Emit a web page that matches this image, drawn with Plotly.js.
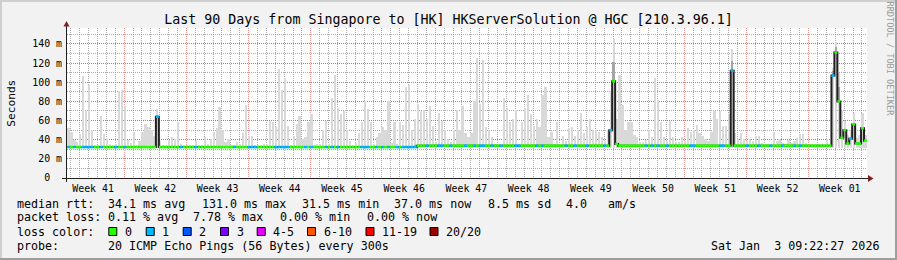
<!DOCTYPE html>
<html>
<head>
<meta charset="utf-8">
<script src="https://cdn.plot.ly/plotly-3.0.1.min.js"></script>
<style>
html,body{margin:0;padding:0;background:#f2f2f2;overflow:hidden;}
#chart{width:897px;height:260px;}
</style>
</head>
<body>
<div id="chart"></div>
<script>
// ---------------- data ----------------
const titleText = 'Last 90 Days from Singapore to [HK] HKServerSolution @ HGC [210.3.96.1]';
const yAxisTitle = 'Seconds';
const watermarkText = 'RRDTOOL / TOBI OETIKER';
const binHours = 8; // each value covers 8 hours; 270 values = 90 days
const weekLabels = ['Week 41','Week 42','Week 43','Week 44','Week 45','Week 46','Week 47','Week 48','Week 49','Week 50','Week 51','Week 52','Week 01'];
const yTickValues = [0,20,40,60,80,100,120,140];
const yTickLabels = ['0\u00a0\u00a0','20 m','40 m','60 m','80 m','100 m','120 m','140 m'];
const minRtt = 31.5; // ms, lowest ping (smoke floor)

// highest ping per bin (ms) -- the grey "smoke"
const smokeMax = [
 52,48,40,38,46,107,70,97,50,35,
 35,65,46,42,36,34,36,91,92,75,
 40,37,48,34,39,48,56,53,50,44,
 72,39,35,35,40,43,41,58,36,35,
 34,34,35,39,35,35,43,36,41,48,
 52,74,50,38,41,35,35,38,36,47,
 76,44,44,35,35,35,36,36,60,58,
 53,114,92,104,54,35,44,56,65,41,
 43,59,67,35,36,36,50,60,36,84,
 108,73,67,70,50,39,35,37,47,58,
 80,72,58,36,43,47,53,50,80,37,
 59,36,59,55,95,97,50,62,77,70,
 71,62,75,54,38,68,60,50,41,38,
 50,71,50,75,47,43,47,80,125,77,
 123,53,50,43,36,35,35,84,73,58,
 62,71,36,58,73,87,67,54,62,53,
 87,95,43,48,36,59,35,44,39,52,
 53,44,50,68,47,53,62,50,50,48,
 43,39,50,91,145,62,108,76,50,59,
 59,45,43,38,38,40,50,43,104,82,
 58,43,39,60,43,38,38,43,39,52,
 48,50,55,47,44,41,39,48,70,62,
 70,54,54,67,135,47,41,47,41,39,
 41,39,44,44,37,36,36,36,48,39,
 41,37,36,40,37,39,42,46,46,37,
 35,35,35,35,35,35,41,35,115,142,
 110,70,60,45,50,68,42,45,68,45
];

// median rtt per bin (ms)
const median = [
 32.3,32.3,32.3,32.3,32.3,32.3,32.3,32.3,32.3,32.3,
 32.3,32.3,32.3,32.3,32.3,32.3,32.3,32.3,32.3,32.3,
 32.3,32.3,32.3,32.3,32.3,32.3,32.3,32.3,32.3,32.3,
 64,32.3,32.3,32.3,32.3,32.3,32.3,32.3,32.3,32.3,
 32.3,32.3,32.3,32.3,32.3,32.3,32.3,32.3,32.3,32.3,
 32.3,32.3,32.3,32.3,32.3,32.3,32.3,32.3,32.3,32.3,
 32.3,32.3,32.3,32.3,32.3,32.3,32.3,32.3,32.3,32.3,
 32.3,32.3,32.3,32.3,32.3,32.3,32.3,32.3,32.3,32.3,
 32.3,32.3,32.3,32.3,32.3,32.3,32.3,32.3,32.3,32.3,
 32.3,32.3,32.3,32.3,32.3,32.3,32.3,32.3,32.3,32.3,
 32.3,32.3,32.3,32.3,32.3,32.3,32.3,32.3,32.3,32.3,
 32.3,32.3,32.3,32.3,32.3,32.3,32.3,32.3,33.8,33.8,
 33.8,33.8,33.8,33.8,33.8,33.8,33.8,33.8,33.8,33.8,
 33.8,33.8,33.8,33.8,33.8,33.8,33.8,33.8,33.8,33.8,
 33.8,33.8,33.8,33.8,33.8,33.8,33.8,33.8,33.8,33.8,
 33.8,33.8,33.8,33.8,33.8,33.8,33.8,33.8,33.8,33.8,
 33.8,33.8,33.8,33.8,33.8,33.8,33.8,33.8,33.8,33.8,
 33.8,33.8,33.8,33.8,33.8,33.8,33.8,33.8,33.8,33.8,
 33.8,33.8,33.8,50,101,35.5,33.8,33.8,33.8,33.8,
 33.8,33.8,33.8,33.8,33.8,33.8,33.8,33.8,33.8,33.8,
 33.8,33.8,33.8,33.8,33.8,33.8,33.8,33.8,33.8,33.8,
 33.8,33.8,33.8,33.8,33.8,33.8,33.8,33.8,33.8,33.8,
 33.8,33.8,33.8,33.8,112,33.8,33.8,33.8,33.8,33.8,
 33.8,33.8,33.8,33.8,33.8,33.8,33.8,33.8,33.8,33.8,
 33.8,33.8,33.8,33.8,33.8,33.8,33.8,33.8,33.8,33.8,
 33.8,33.8,33.8,33.8,33.8,33.8,33.8,33.8,107,131,
 80,42,50,36,41,56,36,36,52,39
];

// bins whose median was drawn in the "1 lost ping" colour (all others: 0 lost)
const oneLossBins = [0,2,5,6,7,8,11,16,19,30,38,43,
 56,61,62,63,70,71,72,73,74,80,82,87,89,91,99,100,101,104,106,
 108,111,113,114,115,116,117,121,125,126,129,134,137,139,140,143,146,151,152,158,160,
 168,171,175,181,183,195,197,199,202,210,211,
 220,221,224,229,233,237,241,245,247,258,264];

// dense (dark) smoke above the median at the big spikes
const darkSmokeBins = [184,224,258,259,260];
const darkSmokeTop  = [121,122,112,137,95];

const lossLabels = ['0','1','2','3','4-5','6-10','11-19','20/20'];
const lossColors = ['#26ff00','#00b8ff','#0059ff','#7e00ff','#e600ff','#ff5500','#ff0000','#a10000'];

const rowHeads  = ['median rtt:','packet loss:','loss color:','probe:'];
const rttStats  = ['34.1 ms avg','131.0 ms max','31.5 ms min','37.0 ms now','8.5 ms sd','4.0','am/s'];
const lossStats = ['0.11 % avg','7.78 % max','0.00 % min','0.00 % now'];
const probeText = '20 ICMP Echo Pings (56 Bytes) every 300s';
const dateText  = 'Sat Jan\u00a0\u00a03 09:22:27 2026';

// ---------------- layout geometry ----------------
const PL = 67, PT = 28, PW = 800, PH = 150;
const px = v => (v - PL) / PW;          // image pixel x -> paper
const py = v => (PT + PH - v) / PH;     // image pixel y -> paper
const mono = 'DejaVu Sans Mono';
const firstWeekLine = 154.4;            // hours after start of the first weekly grid line
const halfWeek = 84, week = 168;
const spanHours = smokeMax.length * binHours;

const binStart  = smokeMax.map((_, i) => i * binHours);
const binCenter = binStart.map(s => s + binHours / 2);
const lossOf = smokeMax.map(() => 0);
oneLossBins.forEach(i => { lossOf[i] = 1; });
const weekCenters = weekLabels.map((_, k) => firstWeekLine - halfWeek + week * k);

// ---------------- traces ----------------
const traces = [];
traces.push({
  type: 'bar', x: binCenter, base: minRtt, y: smokeMax.map(v => v - minRtt),
  width: binHours * 0.75, marker: {color: '#d9d9d9', line: {width: 0}}, hoverinfo: 'skip'
});
traces.push({
  type: 'bar', x: darkSmokeBins.map(i => binCenter[i]),
  base: darkSmokeBins.map(i => median[i]),
  y: darkSmokeTop.map((t, k) => t - median[darkSmokeBins[k]]),
  width: binHours * 0.8, marker: {color: '#a4a4a4', line: {width: 0}}, hoverinfo: 'skip'
});
traces.push({
  type: 'scatter', mode: 'lines', x: binCenter, y: median,
  line: {shape: 'hvh', color: '#202020', width: 2}, hoverinfo: 'skip'
});
lossColors.forEach((col, c) => {
  const xs = [], ys = [];
  median.forEach((m, i) => {
    if (lossOf[i] === c) { xs.push(binStart[i], binStart[i] + binHours, null); ys.push(m, m, null); }
  });
  if (xs.length) traces.push({type: 'scatter', mode: 'lines', x: xs, y: ys,
    line: {color: col, width: 2.6}, hoverinfo: 'skip'});
});
traces.push({type: 'scatter', mode: 'markers', x: [weekCenters[0]], y: [0], xaxis: 'x2',
  marker: {opacity: 0}, hoverinfo: 'skip'});

// ---------------- annotations ----------------
const ann = [];
function txt(x, y, text, size, opts) {
  ann.push(Object.assign({xref: 'paper', yref: 'paper', x: px(x), y: py(y), text: text,
    showarrow: false, xanchor: 'left', yanchor: 'middle', borderpad: 0,
    font: {family: mono, size: size, color: '#000000'}}, opts || {}));
}
const LF = 11.66;
const rowY = [203.5, 217.5, 231.5, 245.5];
rowHeads.forEach((h, r) => txt(16, rowY[r], h, LF));
const rttX = [107.3, 201, 300.7, 393.3, 486.7, 565, 606.7];
rttStats.forEach((s, k) => txt(rttX[k], rowY[0], s, LF));
const lossX = [107.3, 192, 279.3, 365.7];
lossStats.forEach((s, k) => txt(lossX[k], rowY[1], s, LF));
const boxX = [108.3, 145.7, 182.7, 220, 256.7, 307, 365.5, 429.5];
lossLabels.forEach((l, k) => txt(boxX[k] + 15.5, rowY[2], l, LF));
txt(107.3, rowY[3], probeText, LF);
txt(880, rowY[3], dateText, LF, {xanchor: 'right'});
txt(10.8, 103, yAxisTitle, 11.2, {xanchor: 'center', textangle: -90});
txt(889.5, 59, watermarkText, 8.6, {xanchor: 'center', textangle: 90,
  font: {family: mono, size: 8.6, color: '#9c9c9c'}});

// ---------------- shapes (frame, axes, arrows, legend boxes) ----------------
const shapes = [];
const rect = (x0, y0, x1, y1, fill, line) => shapes.push({type: 'rect', xref: 'paper', yref: 'paper',
  x0: px(x0), x1: px(x1), y0: py(y0), y1: py(y1), fillcolor: fill,
  line: line || {width: 0}, layer: 'above'});
rect(0, 0, 897, 2, '#cfcfcf');
rect(0, 0, 2, 260, '#cfcfcf');
rect(0, 258, 897, 260, '#9e9e9e');
rect(895, 0, 897, 260, '#9e9e9e');
boxX.forEach((b, k) => rect(b + 0.5, 227.5, b + 8.5, 235.5, lossColors[k], {color: '#000000', width: 1}));
shapes.push({type: 'line', xref: 'paper', yref: 'paper', x0: px(62), x1: px(870), y0: py(178.5), y1: py(178.5),
  line: {color: '#1f1f1f', width: 1}, layer: 'above'});
shapes.push({type: 'line', xref: 'paper', yref: 'paper', x0: px(66.5), x1: px(66.5), y0: py(182), y1: py(25),
  line: {color: '#1f1f1f', width: 1}, layer: 'above'});
const P = (x, y) => px(x) + ',' + py(y);
shapes.push({type: 'path', xref: 'paper', yref: 'paper', layer: 'above',
  path: 'M' + P(868, 175) + ' L' + P(873.5, 178.5) + ' L' + P(868, 182) + ' Z',
  fillcolor: '#801f1f', line: {width: 0}});
shapes.push({type: 'path', xref: 'paper', yref: 'paper', layer: 'above',
  path: 'M' + P(63.5, 26.5) + ' L' + P(66.5, 21) + ' L' + P(69.5, 26.5) + ' Z',
  fillcolor: '#801f1f', line: {width: 0}});

// ---------------- layout ----------------
const gridGrey = 'rgba(143,143,143,0.75)';
const gridRed = 'rgba(222,79,79,0.6)';
const layout = {
  width: 897, height: 260,
  margin: {l: PL, r: 897 - PL - PW, t: PT, b: 260 - PT - PH, pad: 0},
  paper_bgcolor: '#f2f2f2', plot_bgcolor: '#ffffff',
  showlegend: false, barmode: 'overlay', bargap: 0,
  title: {text: titleText, font: {family: mono, size: 13.3, color: '#000000'},
    x: 0.5, xref: 'container', xanchor: 'center', y: 1 - 19.5 / 260, yref: 'container', yanchor: 'middle'},
  xaxis: {range: [0, spanHours], tickmode: 'linear', tick0: firstWeekLine, dtick: week,
    showticklabels: false, ticks: '', showline: false, zeroline: false,
    showgrid: true, gridcolor: gridRed, gridwidth: 1, griddash: '1px,1px',
    minor: {tickmode: 'linear', tick0: firstWeekLine, dtick: 24, showgrid: true,
      gridcolor: gridGrey, gridwidth: 1, griddash: '1px,1px', ticks: ''}},
  xaxis2: {overlaying: 'x', anchor: 'y', side: 'bottom', range: [0, spanHours],
    tickmode: 'array', tickvals: weekCenters, ticktext: weekLabels,
    showgrid: false, zeroline: false, showline: false, ticks: '',
    ticklabelstandoff: 3, tickfont: {family: mono, size: 9.9, color: '#000000'}},
  yaxis: {range: [0, 156.7], tickmode: 'array', tickvals: yTickValues, ticktext: yTickLabels,
    showline: false, zeroline: false, ticks: '', ticklabelstandoff: 4,
    tickfont: {family: mono, size: 9.9, color: '#000000'},
    showgrid: true, gridcolor: gridRed, gridwidth: 1, griddash: '1px,1px',
    minor: {tickmode: 'linear', tick0: 0, dtick: 10, showgrid: true,
      gridcolor: gridGrey, gridwidth: 1, griddash: '1px,1px', ticks: ''}},
  annotations: ann,
  shapes: shapes
};

Plotly.newPlot('chart', traces, layout, {staticPlot: true, displayModeBar: false});
</script>
</body>
</html>
